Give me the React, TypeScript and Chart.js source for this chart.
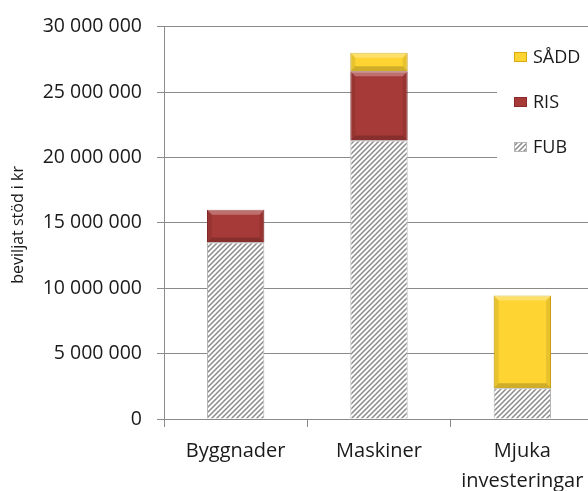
import React, { useEffect, useRef } from "react";
import { Chart, registerables } from "chart.js";

Chart.register(...registerables);

const categories: (string | string[])[] = ["Byggnader", "Maskiner", ["Mjuka", "investeringar"]];
const fubValues = [13500000, 21300000, 2350000];
const risValues = [2500000, 5300000, 0];
const saddValues = [0, 1400000, 7100000];
const seriesLabels = ["FUB", "RIS", "SÅDD"];
const yTickStep = 5000000;
const yMax = 30000000;

const FONT = "'Open Sans', 'Noto Sans', sans-serif";

function formatNumber(v: number): string {
  return String(Math.round(v)).replace(/\B(?=(\d{3})+(?!\d))/g, " ");
}

function makeHatch(): CanvasPattern | string {
  const c = document.createElement("canvas");
  c.width = 5;
  c.height = 5;
  const g = c.getContext("2d");
  if (!g) return "#ccc";
  g.fillStyle = "#ffffff";
  g.fillRect(0, 0, 5, 5);
  g.strokeStyle = "#8a8a8a";
  g.lineWidth = 1.5;
  g.beginPath();
  g.moveTo(-1, 6);
  g.lineTo(6, -1);
  g.moveTo(-1, 1);
  g.lineTo(1, -1);
  g.moveTo(4, 6);
  g.lineTo(6, 4);
  g.stroke();
  const p = g.createPattern(c, "repeat");
  return p || "#ccc";
}

const bevelPlugin = {
  id: "bevel",
  afterDatasetsDraw(chart: any) {
    const ctx = chart.ctx;
    chart.data.datasets.forEach((ds: any, di: number) => {
      if (di === 0) return;
      const meta = chart.getDatasetMeta(di);
      meta.data.forEach((el: any) => {
        const props = el.getProps(["x", "y", "base", "width"], true);
        const h = props.base - props.y;
        if (h < 2) return;
        const l = props.x - props.width / 2;
        const r = props.x + props.width / 2;
        const t = props.y;
        const b = props.base;
        const s = Math.min(5, h / 3);
        ctx.save();
        ctx.fillStyle = "rgba(255,255,255,0.28)";
        ctx.beginPath();
        ctx.moveTo(l, t);
        ctx.lineTo(r, t);
        ctx.lineTo(r - s, t + s);
        ctx.lineTo(l + s, t + s);
        ctx.closePath();
        ctx.fill();
        ctx.fillStyle = "rgba(0,0,0,0.18)";
        ctx.beginPath();
        ctx.moveTo(l, b);
        ctx.lineTo(r, b);
        ctx.lineTo(r - s, b - s);
        ctx.lineTo(l + s, b - s);
        ctx.closePath();
        ctx.fill();
        ctx.fillStyle = "rgba(0,0,0,0.08)";
        ctx.beginPath();
        ctx.moveTo(l, t);
        ctx.lineTo(l + s, t + s);
        ctx.lineTo(l + s, b - s);
        ctx.lineTo(l, b);
        ctx.closePath();
        ctx.fill();
        ctx.beginPath();
        ctx.moveTo(r, t);
        ctx.lineTo(r - s, t + s);
        ctx.lineTo(r - s, b - s);
        ctx.lineTo(r, b);
        ctx.closePath();
        ctx.fill();
        ctx.restore();
      });
    });
  },
};

const legendPlugin = {
  id: "customLegend",
  afterDraw(chart: any) {
    const ctx = chart.ctx;
    ctx.save();
    ctx.fillStyle = "#ffffff";
    ctx.fillRect(497, 36, chart.width - 497, 134);
    const items = chart.data.datasets.map((d: any, i: number) => ({
      label: d.label,
      color: d.legendColor,
      border: d.borderColor,
      idx: i,
    }));
    items.reverse();
    ctx.font = `18px ${FONT}`;
    ctx.textBaseline = "middle";
    ctx.textAlign = "left";
    items.forEach((it: any, k: number) => {
      const cy = 57 + k * 45;
      const mx = 514;
      ctx.fillStyle = it.idx === 0 ? chart.data.datasets[0].backgroundColor : it.color;
      ctx.fillRect(mx, cy - 5, 13, 10);
      ctx.strokeStyle = it.border;
      ctx.lineWidth = 1;
      ctx.strokeRect(mx + 0.5, cy - 4.5, 12, 9);
      ctx.fillStyle = "#1a1a1a";
      ctx.fillText(it.label, 533, cy + 1);
    });
    ctx.restore();
  },
};

const yTitlePlugin = {
  id: "yTitle",
  afterDraw(chart: any) {
    const ctx = chart.ctx;
    const area = chart.chartArea;
    ctx.save();
    ctx.font = `16px ${FONT}`;
    ctx.fillStyle = "#1a1a1a";
    ctx.textAlign = "center";
    ctx.textBaseline = "middle";
    ctx.translate(18, (area.top + area.bottom) / 2 + 2);
    ctx.rotate(-Math.PI / 2);
    ctx.fillText(chart.options.scales.y.title.text, 0, 0);
    ctx.restore();
  },
};

export default function App() {
  const ref = useRef<HTMLCanvasElement | null>(null);
  useEffect(() => {
    if (!ref.current) return;
    const hatch = makeHatch();
    const chart = new Chart(ref.current, {
      type: "bar",
      data: {
        labels: categories as any,
        datasets: [
          {
            label: seriesLabels[0],
            data: fubValues,
            backgroundColor: hatch as any,
            borderColor: "#b5b5b5",
            borderWidth: 1,
            legendColor: "#ccc",
          } as any,
          {
            label: seriesLabels[1],
            data: risValues,
            backgroundColor: "#a53a38",
            borderColor: "#8a2a2a",
            borderWidth: 1,
            legendColor: "#a53a38",
          } as any,
          {
            label: seriesLabels[2],
            data: saddValues,
            backgroundColor: "#fdd431",
            borderColor: "#d8aa10",
            borderWidth: 1,
            legendColor: "#fdd431",
          } as any,
        ],
      },
      options: {
        responsive: false,
        animation: false,
        layout: { padding: { left: 0, right: 6, top: 24, bottom: 0 } },
        plugins: {
          legend: { display: false },
          tooltip: { enabled: false },
        },
        datasets: {
          bar: { categoryPercentage: 1, barPercentage: 0.4 },
        },
        scales: {
          x: {
            stacked: true,
            grid: {
              display: true,
              drawOnChartArea: false,
              drawTicks: true,
              tickLength: 8,
              color: "#8a8a8a",
              offset: true,
            },
            border: { color: "#8a8a8a" },
            ticks: {
              color: "#1a1a1a",
              padding: 9,
              maxRotation: 0,
              autoSkip: false,
              font: { family: FONT, size: 20, lineHeight: 1.5 },
            },
            afterFit(scale: any) {
              scale.height = 72;
            },
          },
          y: {
            stacked: true,
            min: 0,
            max: yMax,
            grid: { color: "#8a8a8a", tickLength: 7 },
            border: { color: "#8a8a8a" },
            ticks: {
              stepSize: yTickStep,
              color: "#1a1a1a",
              padding: 15,
              font: { family: FONT, size: 19.5 },
              callback: (v: any) => formatNumber(Number(v)),
            },
            title: {
              display: false,
              text: "beviljat stöd i kr",
            },
            afterFit(scale: any) {
              scale.width = 164;
            },
          },
        },
      },
      plugins: [bevelPlugin, legendPlugin, yTitlePlugin],
    });
    return () => chart.destroy();
  }, []);
  return (
    <div
      style={{
        position: "fixed",
        left: 0,
        top: 0,
        width: 588,
        height: 491,
        overflow: "hidden",
        background: "#fff",
      }}
    >
      <canvas ref={ref} width={600} height={491} style={{ display: "block" }} />
    </div>
  );
}
